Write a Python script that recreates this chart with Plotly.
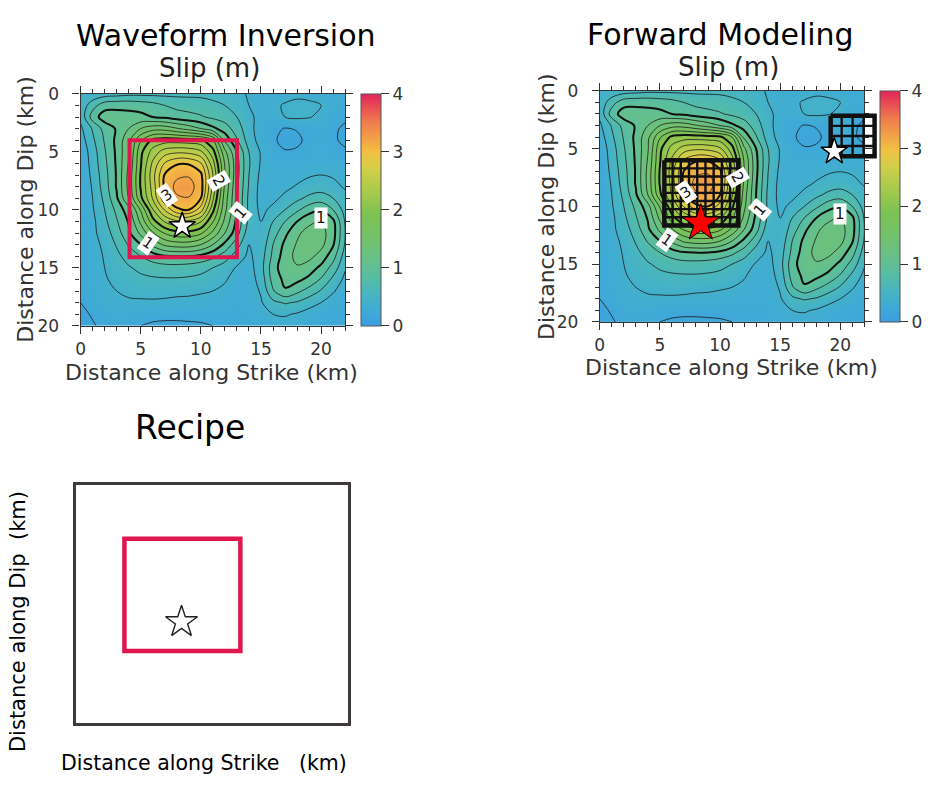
import plotly.graph_objects as go

W, H = 928, 790
FONT = "DejaVu Sans, Verdana, sans-serif"
INK = "#333333"

# ---------------------------------------------------------------- data
strike_km = list(range(23))          # 0 .. 22 km along strike
dip_km = list(range(21))             # 0 .. 20 km down dip

# slip (m) on the 1 km fault grid, one row per dip km
slip_m = [
    [0.40, 0.45, 0.50, 0.52, 0.55, 0.55, 0.55, 0.55, 0.55, 0.55, 0.55, 0.52, 0.50, 0.45, 0.38, 0.32, 0.30, 0.33, 0.35, 0.33, 0.30, 0.28, 0.30],
    [0.45, 0.72, 0.92, 0.95, 0.95, 0.92, 0.88, 0.80, 0.74, 0.72, 0.70, 0.66, 0.60, 0.50, 0.40, 0.33, 0.36, 0.42, 0.46, 0.45, 0.40, 0.30, 0.28],
    [0.45, 0.90, 1.10, 1.08, 1.06, 1.05, 1.00, 0.96, 0.90, 0.86, 0.82, 0.76, 0.70, 0.60, 0.45, 0.33, 0.32, 0.40, 0.43, 0.41, 0.36, 0.26, 0.22],
    [0.36, 0.62, 0.88, 1.02, 1.20, 1.40, 1.52, 1.52, 1.42, 1.32, 1.20, 1.05, 0.90, 0.70, 0.47, 0.30, 0.24, 0.19, 0.21, 0.26, 0.28, 0.22, 0.18],
    [0.30, 0.56, 0.82, 1.05, 1.35, 1.78, 2.05, 2.10, 2.10, 2.08, 2.05, 1.80, 1.15, 0.82, 0.50, 0.32, 0.22, 0.16, 0.17, 0.24, 0.30, 0.22, 0.17],
    [0.25, 0.50, 0.78, 1.04, 1.38, 1.95, 2.28, 2.50, 2.56, 2.54, 2.44, 2.08, 1.45, 1.00, 0.60, 0.38, 0.28, 0.21, 0.22, 0.28, 0.30, 0.25, 0.22],
    [0.23, 0.48, 0.75, 1.03, 1.42, 1.98, 2.44, 2.82, 2.98, 2.98, 2.82, 2.28, 1.58, 1.05, 0.62, 0.38, 0.30, 0.30, 0.30, 0.30, 0.30, 0.30, 0.30],
    [0.23, 0.45, 0.72, 1.02, 1.46, 2.02, 2.52, 3.02, 3.16, 3.18, 3.05, 2.40, 1.60, 1.05, 0.60, 0.35, 0.30, 0.30, 0.33, 0.38, 0.40, 0.38, 0.35],
    [0.23, 0.42, 0.70, 1.02, 1.46, 2.02, 2.48, 3.05, 3.26, 3.28, 3.10, 2.34, 1.56, 1.02, 0.58, 0.33, 0.30, 0.35, 0.42, 0.48, 0.50, 0.45, 0.38],
    [0.23, 0.40, 0.65, 0.97, 1.40, 1.95, 2.42, 2.98, 3.17, 3.19, 3.00, 2.24, 1.50, 1.00, 0.55, 0.33, 0.35, 0.45, 0.55, 0.65, 0.70, 0.60, 0.45],
    [0.23, 0.38, 0.60, 0.85, 1.12, 1.62, 2.18, 2.62, 2.96, 3.00, 2.70, 2.05, 1.45, 1.00, 0.55, 0.35, 0.45, 0.60, 0.76, 0.92, 0.98, 0.80, 0.52],
    [0.23, 0.35, 0.55, 0.78, 1.02, 1.45, 1.92, 2.22, 2.36, 2.36, 2.22, 1.82, 1.35, 0.95, 0.55, 0.40, 0.60, 0.80, 1.00, 1.15, 1.20, 1.05, 0.58],
    [0.23, 0.35, 0.50, 0.70, 0.96, 1.25, 1.58, 1.82, 1.94, 1.94, 1.84, 1.55, 1.20, 0.88, 0.47, 0.42, 0.70, 0.95, 1.16, 1.28, 1.28, 1.08, 0.60],
    [0.23, 0.32, 0.45, 0.62, 0.82, 1.00, 1.25, 1.44, 1.50, 1.50, 1.40, 1.20, 0.95, 0.68, 0.40, 0.45, 0.80, 1.05, 1.22, 1.32, 1.26, 1.02, 0.58],
    [0.23, 0.30, 0.42, 0.55, 0.68, 0.80, 0.90, 0.98, 1.00, 1.00, 0.95, 0.85, 0.70, 0.50, 0.36, 0.50, 0.85, 1.10, 1.26, 1.26, 1.12, 0.88, 0.50],
    [0.23, 0.30, 0.40, 0.50, 0.58, 0.65, 0.70, 0.72, 0.72, 0.70, 0.66, 0.60, 0.50, 0.38, 0.32, 0.52, 0.92, 1.12, 1.18, 1.10, 0.95, 0.72, 0.42],
    [0.23, 0.30, 0.38, 0.45, 0.50, 0.55, 0.57, 0.58, 0.58, 0.57, 0.55, 0.50, 0.42, 0.32, 0.30, 0.48, 0.88, 1.05, 1.05, 0.95, 0.78, 0.55, 0.35],
    [0.22, 0.30, 0.36, 0.40, 0.44, 0.46, 0.47, 0.47, 0.45, 0.44, 0.42, 0.40, 0.36, 0.30, 0.30, 0.42, 0.78, 0.98, 0.85, 0.72, 0.58, 0.42, 0.30],
    [0.20, 0.28, 0.34, 0.36, 0.37, 0.37, 0.37, 0.36, 0.35, 0.35, 0.34, 0.33, 0.30, 0.28, 0.30, 0.38, 0.55, 0.62, 0.58, 0.48, 0.40, 0.32, 0.26],
    [0.15, 0.22, 0.28, 0.30, 0.30, 0.28, 0.26, 0.25, 0.25, 0.25, 0.25, 0.26, 0.27, 0.27, 0.28, 0.32, 0.40, 0.42, 0.38, 0.32, 0.28, 0.24, 0.22],
    [0.12, 0.18, 0.25, 0.27, 0.25, 0.20, 0.17, 0.16, 0.16, 0.17, 0.18, 0.20, 0.24, 0.26, 0.27, 0.28, 0.30, 0.32, 0.30, 0.27, 0.25, 0.22, 0.20],
]

slip_ticks = [0, 1, 2, 3, 4]
distance_ticks = [0, 5, 10, 15, 20]

# contour level labels: text, strike km, dip km
label_text = ["3", "2", "1", "1", "1"]
label_strike = [7.2, 11.5, 13.3, 5.6, 20.0]
label_dip = [8.75, 7.5, 10.3, 12.9, 10.7]

# inversion: large-slip area and hypocentre
inversion_asperity = dict(x0=4.07, x1=13.0, y0=4.0, y1=14.1)
inversion_hypo = dict(strike=8.45, dip=11.4)

# forward model: two strong-motion generation areas (subfault grids)
sma_main = dict(x0=5.37, x1=11.52, y0=6.0, y1=11.65, ncols=9, nrows=8)
sma_sub = dict(x0=19.2, x1=22.85, y0=2.15, y1=5.65, ncols=4, nrows=4)
forward_hypo_main = dict(strike=8.4, dip=11.45)
forward_hypo_sub = dict(strike=19.5, dip=5.25)

# recipe sketch: asperity inside the fault and hypocentre
recipe_asperity = dict(x0=3.94, x1=13.3, y0=4.52, y1=13.93)
recipe_hypo = dict(strike=8.55, dip=11.5)

FAULT_LEN, FAULT_WID = 22, 20

# ---------------------------------------------------------------- style
slip_scale = [
    [0.00, "#3b9de2"], [0.06, "#3fa9d8"], [0.12, "#45b3c6"], [0.20, "#55bca6"],
    [0.28, "#66c08a"], [0.38, "#73c16a"], [0.48, "#7dc252"], [0.58, "#a8ca4c"],
    [0.68, "#d4cf48"], [0.75, "#f3bf42"], [0.80, "#f2a547"], [0.88, "#ef7c4d"],
    [1.00, "#e3235a"],
]
PINK = "#e0174f"

# panel frames in pixels (left, right, top, bottom)
P1 = dict(l=76, r=342, t=86, b=324)
P2 = dict(l=598, r=864, t=83, b=320)
P3 = dict(l=71, r=345, t=487, b=732)
GRID_RIGHT = 880  # drawing layer for subfault grids reaches past the fault edge


def dom_x(p, right=None):
    return [p["l"] / W, (right if right else p["r"]) / W]


def dom_y(p):
    return [1 - p["b"] / H, 1 - p["t"] / H]


fig = go.Figure()


def slip_panel(xa, ya, frame):
    cb_left = frame["r"] + 16
    fig.add_trace(go.Heatmap(
        x=strike_km, y=dip_km, z=slip_m, zmin=0, zmax=4, zsmooth="best",
        colorscale=slip_scale, xaxis=xa, yaxis=ya, hoverinfo="skip",
        colorbar=dict(
            x=cb_left / W, xanchor="left", xpad=0, thickness=20,
            len=(frame["b"] - frame["t"]) / H, lenmode="fraction",
            y=1 - (frame["t"] + frame["b"]) / 2 / H, yanchor="middle", ypad=0,
            tickvals=slip_ticks, ticks="outside", ticklen=8, tickcolor=INK,
            tickfont=dict(size=17, color=INK, family=FONT),
            outlinecolor="#555555", outlinewidth=1,
        ),
    ))
    fig.add_trace(go.Contour(
        x=strike_km, y=dip_km, z=slip_m, xaxis=xa, yaxis=ya, showscale=False,
        contours=dict(start=0.2, end=3.4, size=0.2, coloring="none"),
        line=dict(color="#1a1a1a", width=0.8, smoothing=1.0), hoverinfo="skip",
    ))
    fig.add_trace(go.Contour(
        x=strike_km, y=dip_km, z=slip_m, xaxis=xa, yaxis=ya, showscale=False,
        contours=dict(start=1, end=3, size=1, coloring="none"),
        line=dict(color="#111111", width=2.0, smoothing=1.0), hoverinfo="skip",
    ))
    for txt, sx, sy, ang in zip(label_text, label_strike, label_dip, [-35, 60, -50, 35, 0]):
        fig.add_annotation(
            x=sx, y=sy, xref=xa, yref=ya, text=txt, showarrow=False, textangle=ang,
            font=dict(size=15, color="#111111", family=FONT), bgcolor="white", borderpad=1,
        )


slip_panel("x", "y", P1)
slip_panel("x2", "y2", P2)

star = dict(symbol="star", size=20, color="white", line=dict(color="black", width=1.5))
fig.add_trace(go.Scatter(x=[inversion_hypo["strike"]], y=[inversion_hypo["dip"]], mode="markers",
                         marker=star, xaxis="x", yaxis="y", hoverinfo="skip"))
fig.add_shape(type="rect", xref="x", yref="y", line=dict(color=PINK, width=4),
              **inversion_asperity)


def grid_trace(g, width, border):
    xs, ys = [], []
    dx = (g["x1"] - g["x0"]) / g["ncols"]
    dy = (g["y1"] - g["y0"]) / g["nrows"]
    if border:
        xs = [g["x0"], g["x1"], g["x1"], g["x0"], g["x0"]]
        ys = [g["y0"], g["y0"], g["y1"], g["y1"], g["y0"]]
    else:
        for i in range(1, g["ncols"]):
            xv = g["x0"] + i * dx
            xs += [xv, xv, None]
            ys += [g["y0"], g["y1"], None]
        for j in range(1, g["nrows"]):
            yv = g["y0"] + j * dy
            xs += [g["x0"], g["x1"], None]
            ys += [yv, yv, None]
    return go.Scatter(x=xs, y=ys, mode="lines", line=dict(color="#111111", width=width),
                      xaxis="x4", yaxis="y4", hoverinfo="skip", connectgaps=False)


for g in (sma_main, sma_sub):
    fig.add_trace(grid_trace(g, 2.4, False))
    fig.add_trace(grid_trace(g, 4.5, True))

fig.add_trace(go.Scatter(x=[forward_hypo_sub["strike"]], y=[forward_hypo_sub["dip"]], mode="markers",
                         marker=star, xaxis="x4", yaxis="y4", hoverinfo="skip"))
fig.add_trace(go.Scatter(x=[forward_hypo_main["strike"]], y=[forward_hypo_main["dip"]], mode="markers",
                         marker=dict(symbol="star", size=28, color="#ff0000",
                                     line=dict(color="black", width=1)),
                         xaxis="x4", yaxis="y4", hoverinfo="skip"))

# recipe sketch
fig.add_shape(type="rect", xref="x3", yref="y3", line=dict(color=PINK, width=4.5), **recipe_asperity)
fig.add_trace(go.Scatter(x=[recipe_hypo["strike"]], y=[recipe_hypo["dip"]], mode="markers",
                         marker=dict(symbol="star-open", size=24, color="#222222",
                                     line=dict(color="#222222", width=1.4)),
                         xaxis="x3", yaxis="y3", hoverinfo="skip"))


def slip_axis(frame, anchor, horizontal):
    ax = dict(
        anchor=anchor, showgrid=False, zeroline=False, showline=True, linecolor=INK,
        linewidth=1.2, mirror="allticks", ticks="outside", ticklen=7, tickwidth=1,
        tickcolor=INK, tickvals=distance_ticks,
        minor=dict(tickvals=list(range(0, FAULT_LEN + 1)), ticks="outside", ticklen=4, tickcolor=INK),
        tickfont=dict(size=17, color=INK, family=FONT),
    )
    if horizontal:
        ax.update(domain=dom_x(frame), range=[0, FAULT_LEN], ticklabelstandoff=1)
    else:
        ax.update(domain=dom_y(frame), range=[FAULT_WID, 0], ticklabelstandoff=10)
    return ax


grid_span = FAULT_LEN * (GRID_RIGHT - P2["l"]) / (P2["r"] - P2["l"])
hidden = dict(showgrid=False, zeroline=False, showticklabels=False, ticks="")

fig.update_layout(
    width=W, height=H, margin=dict(l=0, r=0, t=0, b=0),
    paper_bgcolor="white", plot_bgcolor="rgba(0,0,0,0)", showlegend=False,
    font=dict(family=FONT, color=INK),
    xaxis=slip_axis(P1, "y", True), yaxis=slip_axis(P1, "x", False),
    xaxis2=slip_axis(P2, "y2", True), yaxis2=slip_axis(P2, "x2", False),
    xaxis3=dict(domain=dom_x(P3), range=[0, FAULT_LEN], anchor="y3", showline=True, mirror=True,
                linecolor="#3e3a3b", linewidth=2.5, **hidden),
    yaxis3=dict(domain=dom_y(P3), range=[FAULT_WID, 0], anchor="x3", showline=True, mirror=True,
                linecolor="#3e3a3b", linewidth=2.5, **hidden),
    xaxis4=dict(domain=dom_x(P2, GRID_RIGHT), range=[0, grid_span], anchor="y4", visible=False),
    yaxis4=dict(domain=dom_y(P2), range=[FAULT_WID, 0], anchor="x4", visible=False),
)

texts = [
    ("Waveform Inversion", 222, 26, 30, "black", 0),
    ("Slip (m)", 206, 60, 26, "#222222", 0),
    ("Forward Modeling", 719, 25, 30, "black", 0),
    ("Slip (m)", 727, 58, 26, "#222222", 0),
    ("Recipe", 186, 428, 33, "black", 0),
    ("Distance along Strike (km)", 208, 372, 22, INK, 0),
    ("Distance along Strike (km)", 730, 367, 22, INK, 0),
    ("Distance along Dip (km)", 21, 204, 22, INK, -90),
    ("Distance along Dip (km)", 545, 202, 22, INK, -90),
    ("Distance along Strike   (km)", 200, 773, 20.5, "black", 0),
    ("Distance along Dip  (km)", 13, 627, 21, "black", -90),
]
for txt, x, y, size, color, ang in texts:
    fig.add_annotation(x=x / W, y=1 - y / H, xref="paper", yref="paper", text=txt,
                       showarrow=False, textangle=ang, xanchor="center", yanchor="middle",
                       font=dict(size=size, color=color, family=FONT))

fig.write_html("out.html")
